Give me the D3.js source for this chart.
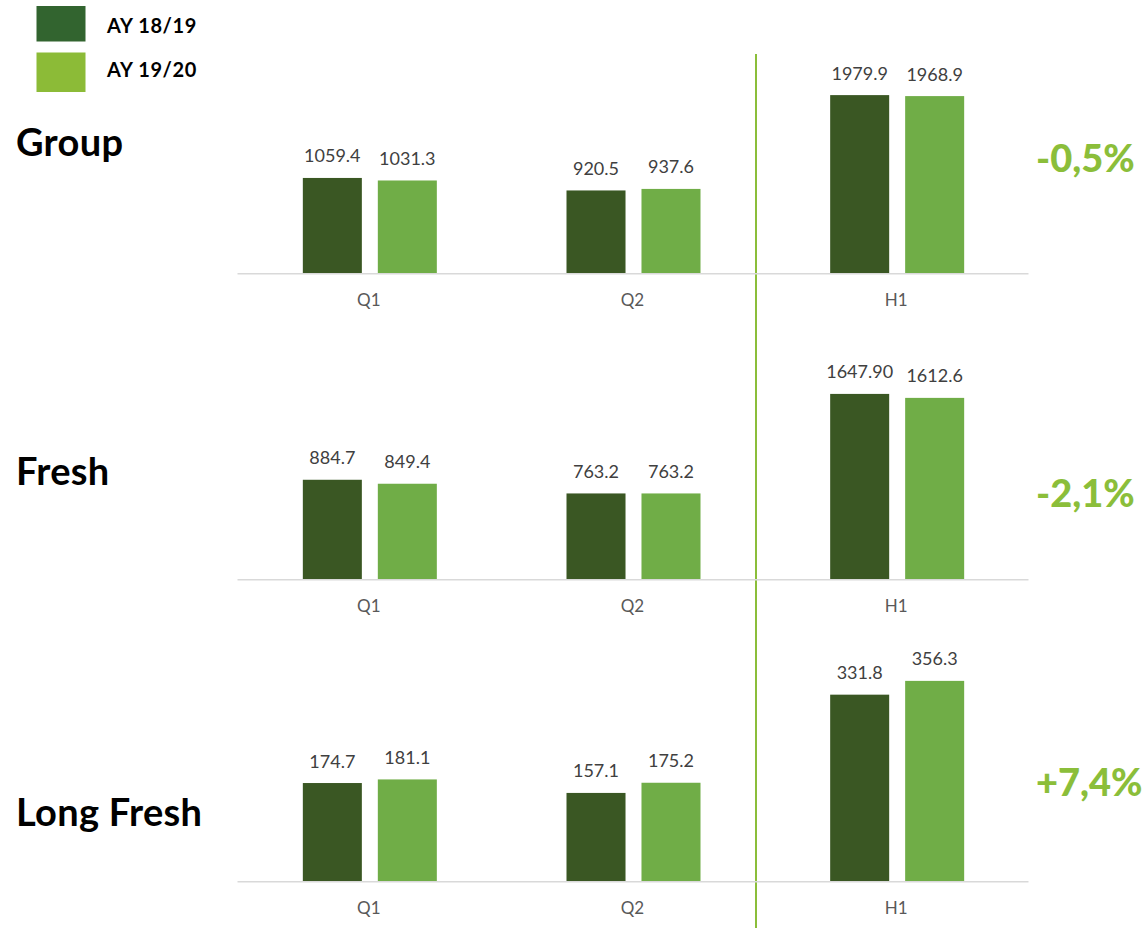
<!DOCTYPE html>
<html>
<head>
<meta charset="utf-8">
<script src="https://cdn.jsdelivr.net/npm/d3@7"></script>
<style>
  html, body { margin: 0; padding: 0; background: #fff; }
  svg { display: block; }
</style>
</head>
<body>
<svg id="chart" width="1146" height="928"></svg>
<script>
// ---------- DATA ----------
const categories = ["Q1", "Q2", "H1"];
const seriesNames = ["AY 18/19", "AY 19/20"];
const panelTitles = ["Group", "Fresh", "Long Fresh"];
const changeLabels = ["-0,5%", "-2,1%", "+7,4%"];

const groupAY1819 = [1059.4, 920.5, 1979.9];
const groupAY1920 = [1031.3, 937.6, 1968.9];
const freshAY1819 = [884.7, 763.2, 1647.9];
const freshAY1920 = [849.4, 763.2, 1612.6];
const longFreshAY1819 = [174.7, 157.1, 331.8];
const longFreshAY1920 = [181.1, 175.2, 356.3];

const groupLabels1819 = ["1059.4", "920.5", "1979.9"];
const groupLabels1920 = ["1031.3", "937.6", "1968.9"];
const freshLabels1819 = ["884.7", "763.2", "1647.90"];
const freshLabels1920 = ["849.4", "763.2", "1612.6"];
const longFreshLabels1819 = ["174.7", "157.1", "331.8"];
const longFreshLabels1920 = ["181.1", "175.2", "356.3"];

const axisMax = [2500, 2000, 400];

// ---------- LAYOUT ----------
const svg = d3.select("#chart");
const W = 1146, H = 928;
const plotLeft = 237, plotRight = 1028;
const plotHeight = 225;
const baselines = [273.3, 579.3, 881.3];
const titleBaselines = [155.5, 485, 826];
const changeBaselines = [172, 507, 795.5];

const barColors = ["#3A5723", "#70AD47"];
const legendColors = ["#32642F", "#8CBB37"];
const accent = "#8BBE3A";

const panels = [
  { title: panelTitles[0], change: changeLabels[0], v: [groupAY1819, groupAY1920], l: [groupLabels1819, groupLabels1920], max: axisMax[0] },
  { title: panelTitles[1], change: changeLabels[1], v: [freshAY1819, freshAY1920], l: [freshLabels1819, freshLabels1920], max: axisMax[1] },
  { title: panelTitles[2], change: changeLabels[2], v: [longFreshAY1819, longFreshAY1920], l: [longFreshLabels1819, longFreshLabels1920], max: axisMax[2] }
];

const x0 = d3.scaleBand().domain(categories).range([plotLeft, plotRight]).padding(0);
const groupWidth = 134;
const x1 = d3.scaleBand().domain(seriesNames).range([0, groupWidth]).paddingInner(0.213).paddingOuter(0);

// Legend
const legend = svg.append("g");
seriesNames.forEach((s, i) => {
  legend.append("rect")
    .attr("x", 36.5).attr("y", [6, 52.5][i])
    .attr("width", 49).attr("height", [35.5, 39.5][i])
    .attr("fill", legendColors[i]);
  legend.append("text")
    .attr("x", 107).attr("y", [32.5, 76.5][i])
    .attr("font-family", "Lato, 'Open Sans', sans-serif")
    .attr("font-weight", 700)
    .attr("font-size", 20)
    .attr("letter-spacing", 0.6)
    .attr("fill", "#000")
    .text(s);
});

// Vertical separator
svg.append("line")
  .attr("x1", 756).attr("x2", 756)
  .attr("y1", 54).attr("y2", H)
  .attr("stroke", accent).attr("stroke-width", 2);

panels.forEach((p, pi) => {
  const base = baselines[pi];
  const y = d3.scaleLinear().domain([0, p.max]).range([base, base - plotHeight]);
  const g = svg.append("g");

  // axis
  const axis = d3.axisBottom(x0).tickSize(0).tickSizeOuter(0).tickPadding(21);
  const ag = g.append("g").attr("transform", `translate(0,${base})`).call(axis);
  ag.select(".domain").attr("stroke", "#D9D9D9").attr("stroke-width", 1.6);
  ag.selectAll(".tick text")
    .attr("font-family", "Lato, 'Open Sans', sans-serif")
    .attr("font-size", 17)
    .attr("fill", "#595959");

  // bars
  categories.forEach((c, ci) => {
    const cx = x0(c) + x0.bandwidth() / 2 - groupWidth / 2 + 1;
    seriesNames.forEach((s, si) => {
      const val = p.v[si][ci];
      const bx = cx + x1(s);
      g.append("rect")
        .attr("x", bx)
        .attr("y", y(val))
        .attr("width", x1.bandwidth())
        .attr("height", base - y(val))
        .attr("fill", barColors[si]);
      g.append("text")
        .attr("x", bx + x1.bandwidth() / 2)
        .attr("y", y(val) - 15.5)
        .attr("text-anchor", "middle")
        .attr("font-family", "Lato, 'Open Sans', sans-serif")
        .attr("font-size", 18)
        .attr("fill", "#404040")
        .text(p.l[si][ci]);
    });
  });

  ag.raise();

  // title
  svg.append("text")
    .attr("x", 16).attr("y", titleBaselines[pi])
    .attr("font-family", "Lato, 'Open Sans', sans-serif")
    .attr("font-weight", 700)
    .attr("font-size", 38)
    .attr("letter-spacing", 0.3)
    .attr("fill", "#000")
    .text(p.title);

  // change label
  svg.append("text")
    .attr("x", 1036).attr("y", changeBaselines[pi])
    .attr("font-family", "Lato, 'Open Sans', sans-serif")
    .attr("font-weight", 900)
    .attr("font-size", 38)
    .attr("fill", accent)
    .text(p.change);
});
</script>
</body>
</html>
